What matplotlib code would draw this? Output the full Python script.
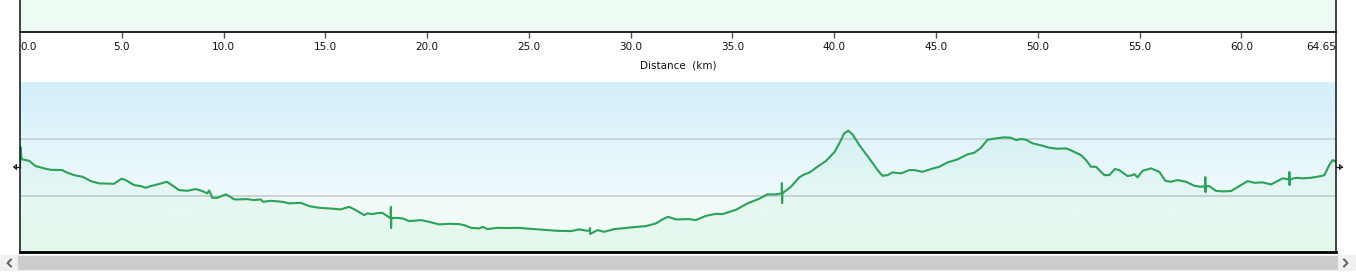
import numpy as np
import matplotlib
matplotlib.use("Agg")
import matplotlib.pyplot as plt
from matplotlib.lines import Line2D
from matplotlib.patches import Rectangle
from matplotlib.colors import LinearSegmentedColormap

# ---- data (distance km, elevation m) ----
distance_km = [
    0.00, 0.02, 0.08, 0.11, 0.44, 0.77, 1.18, 1.51, 2.08, 2.25, 2.65, 3.06, 3.23, 3.47,
    3.88, 4.62, 4.98, 5.19, 5.60, 5.93, 6.18, 6.42, 6.83, 7.21, 7.41, 7.81, 8.22, 8.63,
    8.96, 9.20, 9.29, 9.45, 9.70, 10.11, 10.27, 10.52, 10.76, 11.17, 11.50, 11.83, 11.94,
    12.32, 12.89, 13.22, 13.79, 14.20, 14.69, 15.18, 15.76, 16.17, 16.50, 16.90, 17.07,
    17.31, 17.56, 17.80, 18.05, 18.21, 18.22, 18.23, 18.24, 18.46, 18.79, 19.12, 19.69,
    20.10, 20.59, 21.08, 21.57, 21.82, 22.15, 22.56, 22.72, 22.96, 23.45, 23.95, 24.44,
    25.10, 25.91, 26.40, 27.06, 27.47, 27.88, 27.99, 28.00, 28.01, 28.37, 28.70, 29.19,
    29.68, 30.17, 30.75, 31.24, 31.56, 31.84, 32.22, 32.87, 33.20, 33.70, 34.19, 34.51,
    35.17, 35.74, 36.31, 36.72, 37.13, 37.42, 37.43, 37.44, 37.45, 37.87, 38.28, 38.53,
    38.77, 39.10, 39.59, 40.00, 40.25, 40.49, 40.69, 40.90, 41.23, 41.72, 42.13, 42.37,
    42.62, 42.86, 43.28, 43.69, 43.93, 44.34, 44.75, 45.16, 45.57, 46.06, 46.55, 46.88,
    47.21, 47.53, 47.95, 48.35, 48.68, 48.93, 49.17, 49.42, 49.74, 50.16, 50.57, 50.97,
    51.39, 51.63, 52.12, 52.37, 52.61, 52.86, 53.27, 53.51, 53.79, 54.00, 54.41, 54.66,
    54.74, 54.90, 55.15, 55.56, 55.97, 56.27, 56.54, 56.87, 57.28, 57.69, 58.02, 58.22,
    58.23, 58.24, 58.25, 58.42, 58.75, 59.08, 59.49, 59.90, 60.31, 60.64, 61.05, 61.46,
    62.03, 62.35, 62.36, 62.37, 62.38, 62.69, 63.01, 63.42, 63.91, 64.08, 64.32, 64.49,
    64.65,
]
elevation_m = [
    150.0, 186.0, 166.0, 164.4, 161.9, 152.6, 148.6, 146.1, 145.6, 142.1, 136.8, 133.9, 131.1, 126.3,
    122.3, 121.6, 130.4, 128.1, 119.3, 117.5, 114.6, 117.5, 121.1, 125.1, 120.5, 110.5, 109.3, 112.3,
    108.8, 104.7, 110.0, 97.0, 97.0, 103.0, 100.0, 94.2, 94.2, 94.7, 93.0, 94.2, 90.0,
    91.8, 90.0, 87.2, 88.2, 82.5, 79.5, 78.4, 76.7, 81.2, 75.4, 66.7, 69.6,
    68.4, 70.2, 70.7, 64.9, 61.0, 81.0, 44.0, 61.0, 61.9, 60.9, 56.1, 57.9,
    54.9, 50.4, 51.4, 50.9, 49.1, 44.4, 43.3, 46.1, 42.1, 44.4, 43.9, 44.4,
    42.6, 40.4, 39.1, 38.6, 41.6, 39.1, 39.5, 44.0, 33.5, 40.4, 37.4, 42.1,
    43.9, 45.6, 47.4, 52.1, 59.1, 63.7, 59.1, 59.6, 57.9, 65.4, 68.9, 68.4,
    76.0, 87.2, 95.3, 103.0, 103.0, 104.7, 122.8, 87.7, 104.7, 116.3, 132.8, 138.1,
    140.9, 149.6, 161.4, 176.7, 192.5, 210.0, 214.6, 208.2, 189.5, 166.1, 145.6, 135.6,
    136.8, 141.6, 139.8, 145.6, 145.6, 142.6, 147.4, 151.4, 159.1, 164.4, 173.2, 176.0,
    184.7, 198.8, 201.2, 203.0, 202.3, 198.2, 200.0, 198.8, 192.5, 189.0, 184.7, 183.0,
    183.7, 180.2, 171.9, 163.2, 151.4, 151.4, 136.8, 136.8, 147.4, 145.6, 135.1, 136.8,
    138.6, 132.8, 144.4, 148.6, 142.6, 126.8, 125.1, 128.1, 125.1, 118.1, 116.3, 117.5,
    133.3, 107.0, 117.5, 117.5, 109.3, 108.2, 108.8, 117.5, 126.3, 123.3, 124.0, 120.5,
    131.1, 129.3, 142.1, 119.3, 129.3, 132.1, 131.1, 132.1, 135.1, 136.8, 154.4, 163.2,
    160.2,
]
tick_values = [0, 5, 10, 15, 20, 25, 30, 35, 40, 45, 50, 55, 60, 64.65]
tick_labels = ["0.0", "5.0", "10.0", "15.0", "20.0", "25.0", "30.0", "35.0",
               "40.0", "45.0", "50.0", "55.0", "60.0", "64.65"]
grid_levels = [100, 200]
x_label = "Distance  (km)"

W, H = 1356, 273
fig = plt.figure(figsize=(W / 100, H / 100), dpi=100)
fig.patch.set_facecolor("white")

def fx(px):
    return px / W

def fy(py):
    return 1 - py / H

L, R = 20, 1336
xmax = tick_values[-1]

# ---- top panel (partial) ----
ax_top = fig.add_axes([fx(L), fy(32), fx(R - L), 32 / H])
ax_top.set_facecolor("#eefbf3")
ax_top.set_xlim(0, xmax)
ax_top.set_ylim(0, 1)
ax_top.set_yticks([])
for s in ["top", "left", "right"]:
    ax_top.spines[s].set_visible(False)
ax_top.spines["bottom"].set_linewidth(1.4)
ax_top.spines["bottom"].set_color("#222222")
ax_top.set_xticks(tick_values)
ax_top.set_xticklabels(tick_labels, fontsize=7.5, family="DejaVu Sans")
ax_top.tick_params(axis="x", direction="out", length=4, width=1.0, color="#555555",
                   pad=3, labelcolor="#111111")
labels = ax_top.get_xticklabels()
labels[0].set_ha("left")
labels[-1].set_ha("right")
ax_top.xaxis.get_major_ticks()[0].tick1line.set_visible(False)
ax_top.xaxis.get_major_ticks()[-1].tick1line.set_visible(False)

fig.text(fx((L + R) / 2), fy(65), x_label, ha="center", va="center",
         fontsize=7.5, color="#111111", family="DejaVu Sans")

# ---- elevation panel ----
ax = fig.add_axes([fx(L), fy(252), fx(R - L), 170 / H])
ax.set_xlim(0, xmax)
ax.set_ylim(2, 300)
grad_cmap = LinearSegmentedColormap.from_list(
    "bg", [(0.0, "#d2eff9"), (0.62, "#eef9fd"), (0.75, "#f2fcf8"), (1.0, "#effcf3")])
grad = np.linspace(0, 1, 256).reshape(-1, 1)
ax.imshow(grad, cmap=grad_cmap, aspect="auto", extent=[0, xmax, 2, 300],
          origin="upper", zorder=0)
for g in grid_levels:
    ax.axhline(g, color="#c5cdd1", lw=1.2, zorder=1)
ax.fill_between(distance_km, elevation_m, 2, color="#5ad08a", alpha=0.07,
                lw=0, zorder=2)
ax.plot(distance_km, elevation_m, color="#2aa257", lw=1.5, zorder=3,
        solid_joinstyle="round")
ax.set_xticks([])
ax.set_yticks([])
for s in ["top", "left", "right"]:
    ax.spines[s].set_visible(False)
ax.spines["bottom"].set_linewidth(2.0)
ax.spines["bottom"].set_color("#000000")

# ---- full-height frame verticals ----
for xp in (L, R):
    fig.add_artist(Line2D([fx(xp), fx(xp)], [fy(253), 1.0], color="#111111",
                          lw=1.1, transform=fig.transFigure))

# small slider arrows at the panel edges
fig.add_artist(Line2D([fx(14), fx(20)], [fy(167), fy(167)], color="#222222", lw=0.9,
                      transform=fig.transFigure))
fig.add_artist(Line2D([fx(14), fx(16.5), fx(16.5), fx(14)],
                      [fy(167), fy(164.5), fy(169.5), fy(167)], color="#222222", lw=0.8,
                      transform=fig.transFigure))
fig.add_artist(Line2D([fx(1336), fx(1342)], [fy(167), fy(167)], color="#222222", lw=0.9,
                      transform=fig.transFigure))
fig.add_artist(Line2D([fx(1342), fx(1339.5), fx(1339.5), fx(1342)],
                      [fy(167), fy(164.5), fy(169.5), fy(167)], color="#222222", lw=0.8,
                      transform=fig.transFigure))

# ---- scrollbar ----
fig.add_artist(Rectangle((0, fy(271)), 1, 16 / H, transform=fig.transFigure,
                         facecolor="#f0f0f0", edgecolor="none"))
fig.add_artist(Rectangle((fx(18), fy(270)), fx(1320), 14 / H, transform=fig.transFigure,
                         facecolor="#cdcdcd", edgecolor="none"))
fig.add_artist(Line2D([fx(11), fx(7.5), fx(11)], [fy(259.5), fy(263), fy(266.5)],
                      color="#606060", lw=1.4, transform=fig.transFigure))
fig.add_artist(Line2D([fx(1344), fx(1347.5), fx(1344)], [fy(259.5), fy(263), fy(266.5)],
                      color="#606060", lw=1.4, transform=fig.transFigure))

fig.savefig("out.png", dpi=100, facecolor="white")
